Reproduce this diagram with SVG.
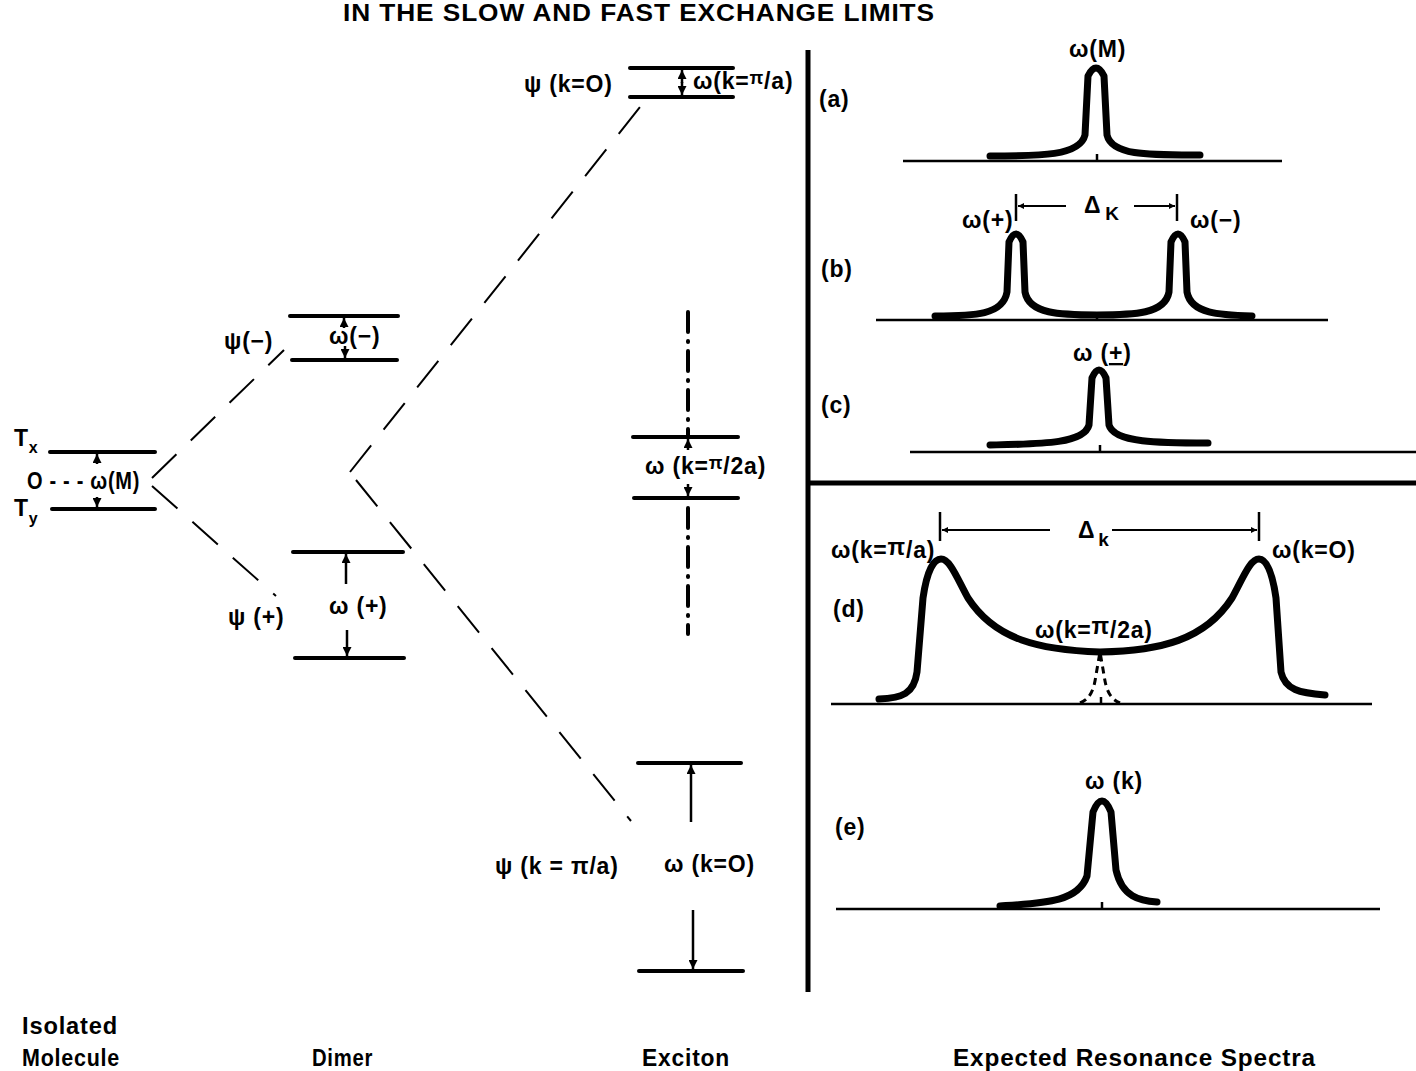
<svg xmlns="http://www.w3.org/2000/svg" width="1416" height="1071" viewBox="0 0 1416 1071">
<style>
text{font-family:"Liberation Sans","DejaVu Sans",sans-serif;font-weight:bold;fill:#000;font-size:23px;letter-spacing:0.8px}
.lvl{stroke:#000;stroke-width:4;stroke-linecap:round;fill:none}
.thin{stroke:#000;stroke-width:2.5;fill:none}
.base{stroke:#000;stroke-width:2.5;fill:none}
.peak{stroke:#000;stroke-width:7;fill:none;stroke-linecap:round;stroke-linejoin:round}
.dash{stroke:#000;stroke-width:2;fill:none;stroke-dasharray:34 20}
.dd{stroke:#000;stroke-width:4;fill:none;stroke-dasharray:20 9 1 9;stroke-linecap:round}
.div{stroke:#000;stroke-width:5;fill:none}
.arr{stroke:#000;stroke-width:2.5;fill:none;marker-end:url(#ah)}
.dim{stroke:#000;stroke-width:2;fill:none;marker-end:url(#ahs)}
</style>
<defs>
<marker id="ah" viewBox="0 0 10 10" refX="10" refY="5" markerWidth="10" markerHeight="9" orient="auto" markerUnits="userSpaceOnUse"><path d="M0,0 L10,5 L0,10 z" fill="#000"/></marker>
<marker id="ahs" viewBox="0 0 10 10" refX="10" refY="5" markerWidth="8" markerHeight="6" orient="auto" markerUnits="userSpaceOnUse"><path d="M0,0 L10,5 L0,10 z" fill="#000"/></marker>
</defs>
<rect width="1416" height="1071" fill="#fff"/>

<text id="title" x="343" y="21" font-weight="normal" font-size="21" letter-spacing="0" textLength="592" lengthAdjust="spacingAndGlyphs">IN THE  SLOW AND FAST EXCHANGE LIMITS</text>

<g id="connectors">
<path class="dash" d="M152,478 L284,350"/>
<path class="dash" d="M152,486 L276,596"/>
<path class="dash" d="M350,472 L640,107"/>
<path class="dash" d="M356,480 L631,821"/>
</g>

<g id="isolated">
<line class="lvl" x1="50" y1="452" x2="155" y2="452"/>
<line class="lvl" x1="52" y1="509" x2="155" y2="509"/>
<text x="14" y="446">T<tspan dy="7" font-size="16">x</tspan></text>
<text x="14" y="516">T<tspan dy="8" font-size="16">y</tspan></text>
<text x="27" y="489" font-size="20" letter-spacing="0" textLength="113" lengthAdjust="spacingAndGlyphs">O - - - ω(M)</text>
<line class="arr" x1="97" y1="464" x2="97" y2="454"/>
<line class="arr" x1="97" y1="497" x2="97" y2="507"/>
</g>

<g id="dimer-minus">
<line class="lvl" x1="290" y1="316" x2="398" y2="316"/>
<line class="lvl" x1="292" y1="360" x2="397" y2="360"/>
<text x="224" y="349">ψ(−)</text>
<text x="329" y="344">ω(−)</text>
<line class="arr" x1="344" y1="328" x2="344" y2="318"/>
<line class="arr" x1="345" y1="346" x2="345" y2="358"/>
</g>

<g id="dimer-plus">
<line class="lvl" x1="293" y1="552" x2="403" y2="552"/>
<line class="lvl" x1="295" y1="658" x2="404" y2="658"/>
<text x="228" y="625">ψ (+)</text>
<text x="329" y="614">ω (+)</text>
<line class="arr" x1="346" y1="584" x2="346" y2="554"/>
<line class="arr" x1="347" y1="630" x2="347" y2="656"/>
</g>

<g id="exciton-top">
<line class="lvl" x1="630" y1="68" x2="733" y2="68"/>
<line class="lvl" x1="630" y1="97" x2="733" y2="97"/>
<text x="524" y="92">ψ (k=O)</text>
<text x="693" y="89">ω(k=<tspan dy="-5" font-size="18">π</tspan><tspan dy="5">/a)</tspan></text>
<line class="arr" x1="682" y1="83" x2="682" y2="70"/>
<line class="arr" x1="682" y1="82" x2="682" y2="95"/>
</g>

<g id="exciton-mid">
<line class="dd" x1="688" y1="312" x2="688" y2="436"/>
<line class="dd" x1="688" y1="508" x2="688" y2="634"/>
<line class="lvl" x1="633" y1="437" x2="738" y2="437"/>
<line class="lvl" x1="634" y1="498" x2="738" y2="498"/>
<text x="645" y="474">ω (k=<tspan dy="-5" font-size="18">π</tspan><tspan dy="5">/2a)</tspan></text>
<line class="arr" x1="688" y1="450" x2="688" y2="439"/>
<line class="arr" x1="688" y1="484" x2="688" y2="496"/>
</g>

<g id="exciton-bottom">
<line class="lvl" x1="638" y1="763" x2="741" y2="763"/>
<line class="lvl" x1="639" y1="971" x2="743" y2="971"/>
<text x="495" y="874">ψ (k = π/a)</text>
<text x="664" y="872">ω (k=O)</text>
<line class="arr" x1="691" y1="822" x2="691" y2="765"/>
<line class="arr" x1="693" y1="910" x2="693" y2="969"/>
</g>

<g id="dividers">
<line class="div" x1="808" y1="50" x2="808" y2="992"/>
<line class="div" x1="808" y1="483" x2="1416" y2="483"/>
</g>

<g id="spectrum-a">
<text x="819" y="107">(a)</text>
<line class="base" x1="903" y1="161" x2="1282" y2="161"/>
<line class="thin" x1="1097" y1="154" x2="1097" y2="161"/>
<path class="peak" d="M990,156 C1040,156 1080,156 1085,135 L1088,76 Q1096,60 1104,76 L1107,135 C1112,156 1150,155 1200,155"/>
<text x="1069" y="57">ω(M)</text>
</g>

<g id="spectrum-b">
<text x="821" y="277">(b)</text>
<line class="base" x1="876" y1="320" x2="1328" y2="320"/>
<line class="thin" x1="1097" y1="313" x2="1097" y2="320"/>
<path class="peak" d="M935,316 C975,316 1003,315 1007,292 L1009,242 Q1016,226 1023,242 L1025,292 C1029,314 1060,315 1097,315 C1134,315 1165,314 1169,292 L1171,242 Q1178,226 1185,242 L1187,292 C1191,314 1220,315 1252,316"/>
<text x="962" y="228" font-size="20">ω(+)</text>
<text x="1190" y="228" font-size="20">ω(−)</text>
<line class="thin" x1="1016" y1="194" x2="1016" y2="221"/>
<line class="thin" x1="1177" y1="194" x2="1177" y2="221"/>
<line class="dim" x1="1066" y1="206" x2="1018" y2="206"/>
<line class="dim" x1="1134" y1="206" x2="1175" y2="206"/>
<text x="1084" y="213">Δ<tspan dx="4" dy="7" font-size="19">K</tspan></text>
</g>

<g id="spectrum-c">
<text x="821" y="413">(c)</text>
<line class="base" x1="910" y1="452" x2="1416" y2="452"/>
<line class="thin" x1="1100" y1="445" x2="1100" y2="452"/>
<path class="peak" d="M990,445 C1040,444 1084,444 1089,425 L1092,378 Q1099,362 1106,378 L1109,425 C1114,443 1160,443 1208,443"/>
<text x="1073" y="361">ω (<tspan text-decoration="underline">+</tspan>)</text>
</g>

<g id="spectrum-d">
<text x="833" y="617">(d)</text>
<line class="base" x1="831" y1="704" x2="1372" y2="704"/>
<line class="thin" x1="1101" y1="697" x2="1101" y2="704"/>
<path class="peak" d="M879,699 C902,698 914,694 917,672 L923,598 C927,570 934,559 941,559 C950,559 957,578 968,598 C995,640 1040,650 1100,652 C1160,651 1205,640 1232,598 C1243,578 1250,559 1259,559 C1266,559 1272,570 1276,598 L1281,672 C1285,690 1300,693 1325,695"/>
<path d="M1080,703 C1090,699 1094,690 1096,675 L1100,652 L1104,675 C1106,690 1110,699 1120,703" stroke="#000" stroke-width="3" fill="none" stroke-dasharray="7 5"/>
<text x="831" y="558" letter-spacing="0">ω(k=<tspan dy="-3">π</tspan><tspan dy="3">/a)</tspan></text>
<text x="1272" y="558" letter-spacing="0">ω(k=O)</text>
<text x="1035" y="638">ω(k=<tspan dy="-4">π</tspan><tspan dy="4">/2a)</tspan></text>
<line class="thin" x1="940" y1="512" x2="940" y2="541"/>
<line class="thin" x1="1259" y1="512" x2="1259" y2="541"/>
<line class="dim" x1="1050" y1="530" x2="942" y2="530"/>
<line class="dim" x1="1112" y1="530" x2="1257" y2="530"/>
<text x="1078" y="538">Δ<tspan dx="3" dy="8" font-size="19">k</tspan></text>
</g>

<g id="spectrum-e">
<text x="835" y="835">(e)</text>
<line class="base" x1="836" y1="909" x2="1380" y2="909"/>
<line class="thin" x1="1102" y1="902" x2="1102" y2="909"/>
<path class="peak" d="M1000,906 C1045,903 1078,902 1087,876 L1093,812 Q1102,790 1111,812 L1116,870 C1122,897 1140,901 1157,902"/>
<text x="1085" y="789">ω (k)</text>
</g>

<g id="footer">
<text x="22" y="1034" textLength="96" lengthAdjust="spacingAndGlyphs">Isolated</text>
<text x="22" y="1066" textLength="98" lengthAdjust="spacingAndGlyphs">Molecule</text>
<text x="312" y="1066" textLength="61" lengthAdjust="spacingAndGlyphs">Dimer</text>
<text x="642" y="1066" textLength="88" lengthAdjust="spacingAndGlyphs">Exciton</text>
<text x="953" y="1066" textLength="363" lengthAdjust="spacingAndGlyphs">Expected  Resonance Spectra</text>
</g>
</svg>
